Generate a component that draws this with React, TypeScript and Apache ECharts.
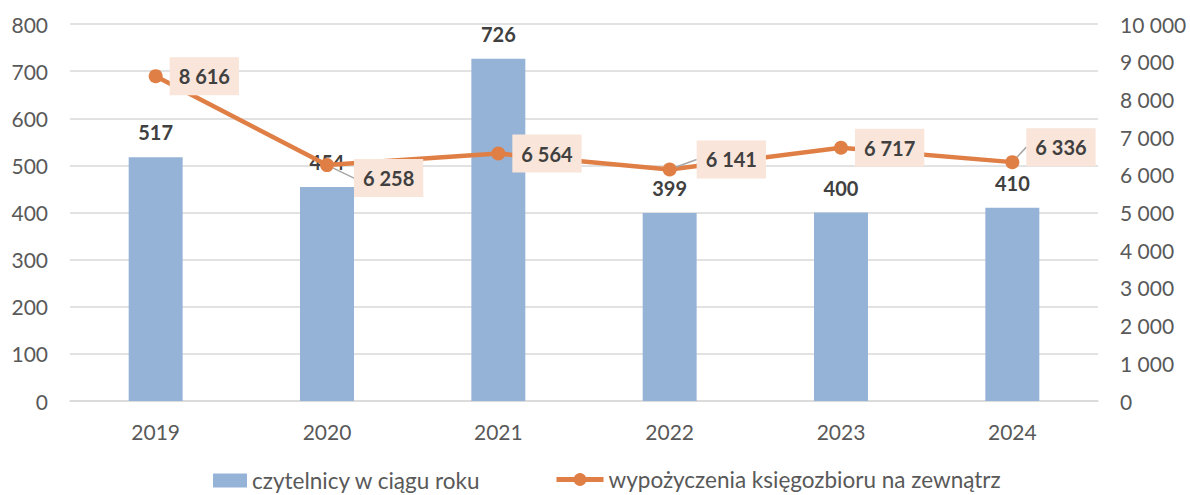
import React, { useEffect, useRef } from "react";
import * as echarts from "echarts";

const years = ["2019", "2020", "2021", "2022", "2023", "2024"];
const readers = [517, 454, 726, 399, 400, 410];
const loans = [8616, 6258, 6564, 6141, 6717, 6336];
const barName = "czytelnicy w ciągu roku";
const lineName = "wypożyczenia księgozbioru na zewnątrz";

// label offsets for line labels (dx, dy) by index
const loanLabelShift: Record<number, [number, number]> = {
  1: [13, 13],
  3: [13, -10],
  5: [0, -15],
};

const fmt = (v: number) => String(v).replace(/\B(?=(\d{3})+(?!\d))/g, " ");
const FONT = "Lato, 'Open Sans', sans-serif";

export default function App() {
  const ref = useRef<HTMLDivElement>(null);
  useEffect(() => {
    if (!ref.current) return;
    const chart = echarts.init(ref.current, undefined, { renderer: "svg" });
    const legendText = { fontSize: 22.5, color: "#595959", fontFamily: FONT };
    chart.setOption({
      animation: false,
      textStyle: { fontFamily: FONT },
      grid: { left: 70, right: 92, top: 24, bottom: 94 },
      legend: [
        {
          left: 208,
          top: 464,
          itemWidth: 34,
          itemHeight: 14,
          itemGap: 5,
          textStyle: legendText,
          data: [{ name: barName, icon: "rect" }],
        },
        {
          left: 549,
          top: 463,
          itemWidth: 47,
          itemHeight: 16,
          textStyle: legendText,
          lineStyle: { width: 5 },
          data: [{ name: lineName }],
        },
      ],
      xAxis: {
        type: "category",
        data: years,
        axisLine: { lineStyle: { color: "#D9D9D9", width: 1.5 } },
        axisTick: { show: false },
        axisLabel: { fontSize: 21, color: "#595959", margin: 20, fontFamily: FONT },
      },
      yAxis: [
        {
          type: "value",
          min: 0,
          max: 800,
          interval: 100,
          axisLine: { show: false },
          axisTick: { show: false },
          splitLine: { lineStyle: { color: "#D9D9D9", width: 1.5 } },
          axisLabel: { fontSize: 21, color: "#595959", margin: 22, fontFamily: FONT },
        },
        {
          type: "value",
          min: 0,
          max: 10000,
          interval: 1000,
          axisLine: { show: false },
          axisTick: { show: false },
          splitLine: { show: false },
          axisLabel: {
            fontSize: 21,
            color: "#595959",
            margin: 22,
            fontFamily: FONT,
            formatter: (v: number) => fmt(v),
          },
        },
      ],
      series: [
        {
          name: barName,
          type: "bar",
          data: readers,
          barWidth: "31.5%",
          itemStyle: { color: "#95B3D7" },
          label: {
            show: true,
            position: "top",
            distance: 15,
            fontSize: 20,
            fontWeight: "bold",
            color: "#404040",
            fontFamily: FONT,
          },
        },
        {
          name: lineName,
          type: "line",
          yAxisIndex: 1,
          data: loans.map((v, i) => ({
            value: v,
            labelLine: { show: !!loanLabelShift[i] },
          })),
          symbol: "circle",
          symbolSize: 14,
          lineStyle: { color: "#E07F45", width: 4.5 },
          itemStyle: { color: "#E07F45" },
          label: {
            show: true,
            position: "right",
            distance: 7,
            fontSize: 20,
            lineHeight: 22,
            fontWeight: "bold",
            color: "#404040",
            fontFamily: FONT,
            backgroundColor: "#F9E5D9",
            padding: [9, 9, 7, 9],
            formatter: (p: any) => fmt(p.value),
          },
          labelLine: { show: true, lineStyle: { color: "#A6A6A6", width: 1.5 } },
          labelLayout: (p: any) => {
            const s = loanLabelShift[p.dataIndex];
            return s ? { dx: s[0], dy: s[1] } : {};
          },
          z: 3,
        },
      ],
    });
    return () => chart.dispose();
  }, []);
  return (
    <div
      ref={ref}
      style={{ position: "fixed", left: 0, top: 0, width: 1190, height: 495, background: "#fff" }}
    />
  );
}
